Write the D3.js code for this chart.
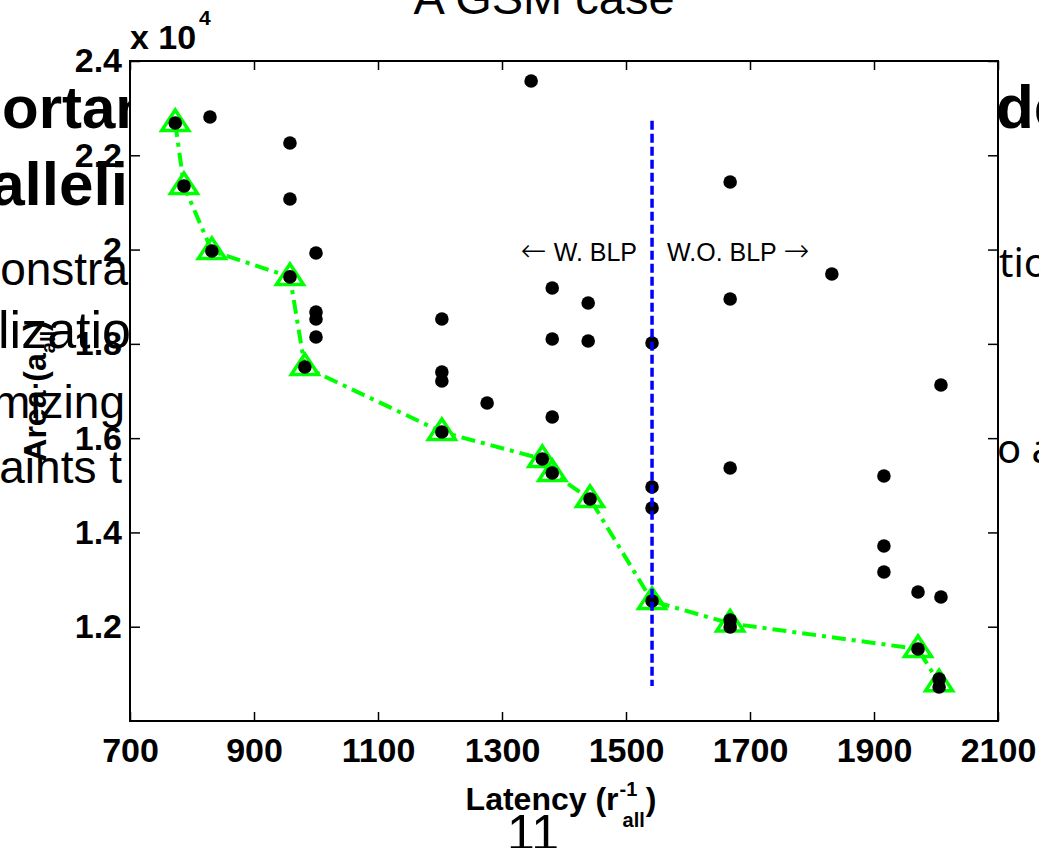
<!DOCTYPE html>
<html>
<head>
<meta charset="utf-8">
<script src="https://cdn.jsdelivr.net/npm/d3@7"></script>
<style>
  body { margin: 0; background: #fff; }
  svg { display: block; font-family: "Liberation Sans", Arial, sans-serif; }
</style>
</head>
<body>
<div class="chart"></div>
<script>
// axis ticks
const latencyTicks = [700, 900, 1100, 1300, 1500, 1700, 1900, 2100];
const areaTicks = [12000, 14000, 16000, 18000, 20000, 22000, 24000];
const areaTickLabels = ['1.2', '1.4', '1.6', '1.8', '2', '2.2', '2.4'];

// all explored design points (latency, area)
const designLatency = [773, 829, 958, 958, 787, 832, 958, 1000, 1000, 1000, 1000, 982,
  1203, 1203, 1203, 1276, 1203, 1347, 1381, 1381, 1381, 1365, 1381, 1439, 1439, 1442,
  1542, 1542, 1542, 1542, 1668, 1668, 1668, 1668, 1668, 1832, 1916, 1916, 1916, 2008,
  1971, 2008, 1971, 2005, 2005];
const designArea = [22685, 22812, 22260, 21073, 21350, 19970, 19420, 19927, 18676, 18527, 18145, 17509,
  18527, 17403, 17212, 16745, 16130, 23576, 19185, 18103, 16448, 15557, 15260, 18866, 18060, 14709,
  18018, 14963, 14518, 12545, 18951, 15366, 12142, 11993, 21433, 19482, 15197, 13712, 13160, 17127,
  12736, 12630, 11527, 10890, 10720];

// pareto front
const paretoLatency = [773, 787, 832, 958, 982, 1203, 1365, 1381, 1442, 1542, 1668, 1971, 2005];
const paretoArea = [22685, 21350, 19970, 19420, 17509, 16130, 15557, 15260, 14709, 12545, 12070, 11527, 10800];

// BLP split line
const blpLatency = [1542, 1542];
const blpArea = [22730, 10740];

function drawChart() {
    let width = 1039, height = 848;
    let margin = {top: 61, right: 41, bottom: 127, left: 130};

    let x = d3.scaleLinear().domain([700, 2100]).range([margin.left, width - margin.right]);
    let y = d3.scaleLinear().domain([10000, 24000]).range([height - margin.bottom, margin.top]);

    let svg = d3.select('.chart')
        .append('svg')
        .attr('width', width)
        .attr('height', height);

    // slide text behind the figure
    let slide = svg.append('g').attr('fill', '#000');
    slide.append('text').attr('x', 152).attr('y', 128).attr('text-anchor', 'end')
        .attr('font-size', 60).attr('font-weight', 'bold').text('Importan');
    slide.append('text').attr('x', 128).attr('y', 205).attr('text-anchor', 'end')
        .attr('font-size', 62).attr('font-weight', 'bold').text('Paralleli');
    slide.append('text').attr('x', 128).attr('y', 285).attr('text-anchor', 'end')
        .attr('font-size', 46).text('Constra');
    slide.append('text').attr('x', 131).attr('y', 348).attr('text-anchor', 'end')
        .attr('font-size', 52).text('Utilizatio');
    slide.append('text').attr('x', 125).attr('y', 418).attr('text-anchor', 'end')
        .attr('font-size', 46).text('Minimizing');
    slide.append('text').attr('x', 122).attr('y', 483).attr('text-anchor', 'end')
        .attr('font-size', 46).text('Constraints t');
    slide.append('text').attr('x', 996).attr('y', 128)
        .attr('font-size', 62).attr('font-weight', 'bold').text('de');
    slide.append('text').attr('x', 999).attr('y', 277)
        .attr('font-family', '"Noto Sans", sans-serif').attr('font-size', 40).text('tio');
    slide.append('text').attr('x', 997).attr('y', 463)
        .attr('font-family', '"Noto Sans", sans-serif').attr('font-size', 40).text('o a');
    slide.append('text').attr('x', 533).attr('y', 850).attr('text-anchor', 'middle')
        .attr('font-size', 50).text('11');

    // y label
    let yl = svg.append('g').attr('font-weight', 'bold');
    let ylMain = yl.append('text').attr('x', 0).attr('y', 0).attr('font-size', 32).text('Area (a');
    let ylL = ylMain.node().getComputedTextLength();
    let ylSub = yl.append('text').attr('x', ylL).attr('y', 9).attr('font-size', 20).text('all');
    let ylSubL = ylSub.node().getComputedTextLength();
    let ylClose = yl.append('text').attr('x', ylL + ylSubL).attr('y', 0).attr('font-size', 32).text(')');
    let ylTotal = ylL + ylSubL + ylClose.node().getComputedTextLength();
    yl.attr('transform', 'translate(46,' + ((y(10000) + y(24000)) / 2 + ylTotal / 2) + ') rotate(-90)');

    // plot area
    svg.append('rect')
        .attr('x', x(700)).attr('y', y(24000))
        .attr('width', x(2100) - x(700)).attr('height', y(10000) - y(24000))
        .attr('fill', '#fff');

    let tickFont = g => g.selectAll('text')
        .attr('font-size', 34).attr('font-weight', 'bold')
        .attr('fill', '#000').attr('font-family', '"Liberation Sans", Arial, sans-serif');

    let axisStyle = g => {
        g.select('.domain').remove();
        g.selectAll('.tick line').attr('stroke', '#000').attr('stroke-width', 1.5);
    };

    svg.append('g')
        .attr('transform', 'translate(0,' + y(10000) + ')')
        .call(d3.axisBottom(x).tickValues(latencyTicks).tickSize(-9).tickPadding(17).tickFormat(d3.format('d')))
        .call(axisStyle).call(tickFont);

    svg.append('g')
        .attr('transform', 'translate(0,' + y(24000) + ')')
        .call(d3.axisTop(x).tickValues(latencyTicks).tickSize(-9).tickFormat(''))
        .call(axisStyle);

    svg.append('g')
        .attr('transform', 'translate(' + x(700) + ',0)')
        .call(d3.axisLeft(y).tickValues(areaTicks).tickSize(-10).tickPadding(8)
            .tickFormat((d, i) => areaTickLabels[i]))
        .call(axisStyle).call(tickFont);

    svg.append('g')
        .attr('transform', 'translate(' + x(2100) + ',0)')
        .call(d3.axisRight(y).tickValues(areaTicks).tickSize(-10).tickFormat(''))
        .call(axisStyle);

    svg.append('rect')
        .attr('x', x(700)).attr('y', y(24000))
        .attr('width', x(2100) - x(700)).attr('height', y(10000) - y(24000))
        .attr('fill', 'none').attr('stroke', '#000').attr('stroke-width', 2);

    // pareto front
    let pareto = paretoLatency.map((d, i) => ({lat: d, area: paretoArea[i]}));
    let valueLine = d3.line()
        .x(d => x(d.lat))
        .y(d => y(d.area));

    svg.append('path')
        .datum(pareto)
        .attr('d', valueLine)
        .attr('fill', 'none')
        .attr('stroke', '#00ff00')
        .attr('stroke-width', 4)
        .attr('stroke-dasharray', '14,6,4,6');

    svg.selectAll('.tri')
        .data(pareto)
        .enter().append('path')
        .attr('class', 'tri')
        .attr('transform', d => 'translate(' + x(d.lat) + ',' + y(d.area) + ')')
        .attr('d', 'M0,-13L13.5,7.5L-13.5,7.5Z')
        .attr('fill', 'none')
        .attr('stroke', '#00ff00')
        .attr('stroke-width', 3.5);

    // design points
    let designs = designLatency.map((d, i) => ({lat: d, area: designArea[i]}));
    svg.selectAll('.dot')
        .data(designs)
        .enter().append('circle')
        .attr('class', 'dot')
        .attr('cx', d => x(d.lat))
        .attr('cy', d => y(d.area))
        .attr('r', 6.8)
        .attr('fill', '#000');

    // BLP divider
    svg.append('line')
        .attr('x1', x(blpLatency[0])).attr('x2', x(blpLatency[1]))
        .attr('y1', y(blpArea[0])).attr('y2', y(blpArea[1]))
        .attr('stroke', '#0000ff')
        .attr('stroke-width', 3.5)
        .attr('stroke-dasharray', '9,4');

    let wText = svg.append('text')
        .attr('x', x(blpLatency[0]) - 15).attr('y', 261)
        .attr('text-anchor', 'end').attr('font-size', 25);
    wText.append('tspan').attr('font-family', '"DejaVu Sans", sans-serif')
        .attr('font-size', 31).attr('font-weight', 200).text('\u2190');
    wText.append('tspan').text(' W. BLP');

    let woText = svg.append('text')
        .attr('x', x(blpLatency[0]) + 15).attr('y', 261)
        .attr('font-size', 25);
    woText.append('tspan').text('W.O. BLP ');
    woText.append('tspan').attr('font-family', '"DejaVu Sans", sans-serif')
        .attr('font-size', 31).attr('font-weight', 200).text('\u2192');

    // title and exponent
    svg.append('text')
        .attr('x', 544).attr('y', 14)
        .attr('text-anchor', 'middle').attr('font-size', 47)
        .text('A GSM case');

    svg.append('text')
        .attr('x', 130).attr('y', 49)
        .attr('font-size', 34).attr('font-weight', 'bold')
        .text('x 10');
    svg.append('text')
        .attr('x', 199).attr('y', 25)
        .attr('font-size', 21).attr('font-weight', 'bold')
        .text('4');

    // x label
    let xl = svg.append('g').attr('font-weight', 'bold');
    let xlMain = xl.append('text').attr('x', 0).attr('y', 810).attr('font-size', 32).text('Latency (r');
    let xlL = xlMain.node().getComputedTextLength();
    xl.append('text').attr('x', xlL + 1).attr('y', 796).attr('font-size', 20).text('-1');
    let xlSub = xl.append('text').attr('x', xlL + 4).attr('y', 827).attr('font-size', 20).text('all');
    let xlSubL = xlSub.node().getComputedTextLength();
    let xlClose = xl.append('text').attr('x', xlL + 5 + xlSubL).attr('y', 810).attr('font-size', 32).text(')');
    let xlTotal = xlL + 5 + xlSubL + xlClose.node().getComputedTextLength();
    xl.attr('transform', 'translate(' + (561 - xlTotal / 2) + ',0)');
}

drawChart();
</script>
</body>
</html>
